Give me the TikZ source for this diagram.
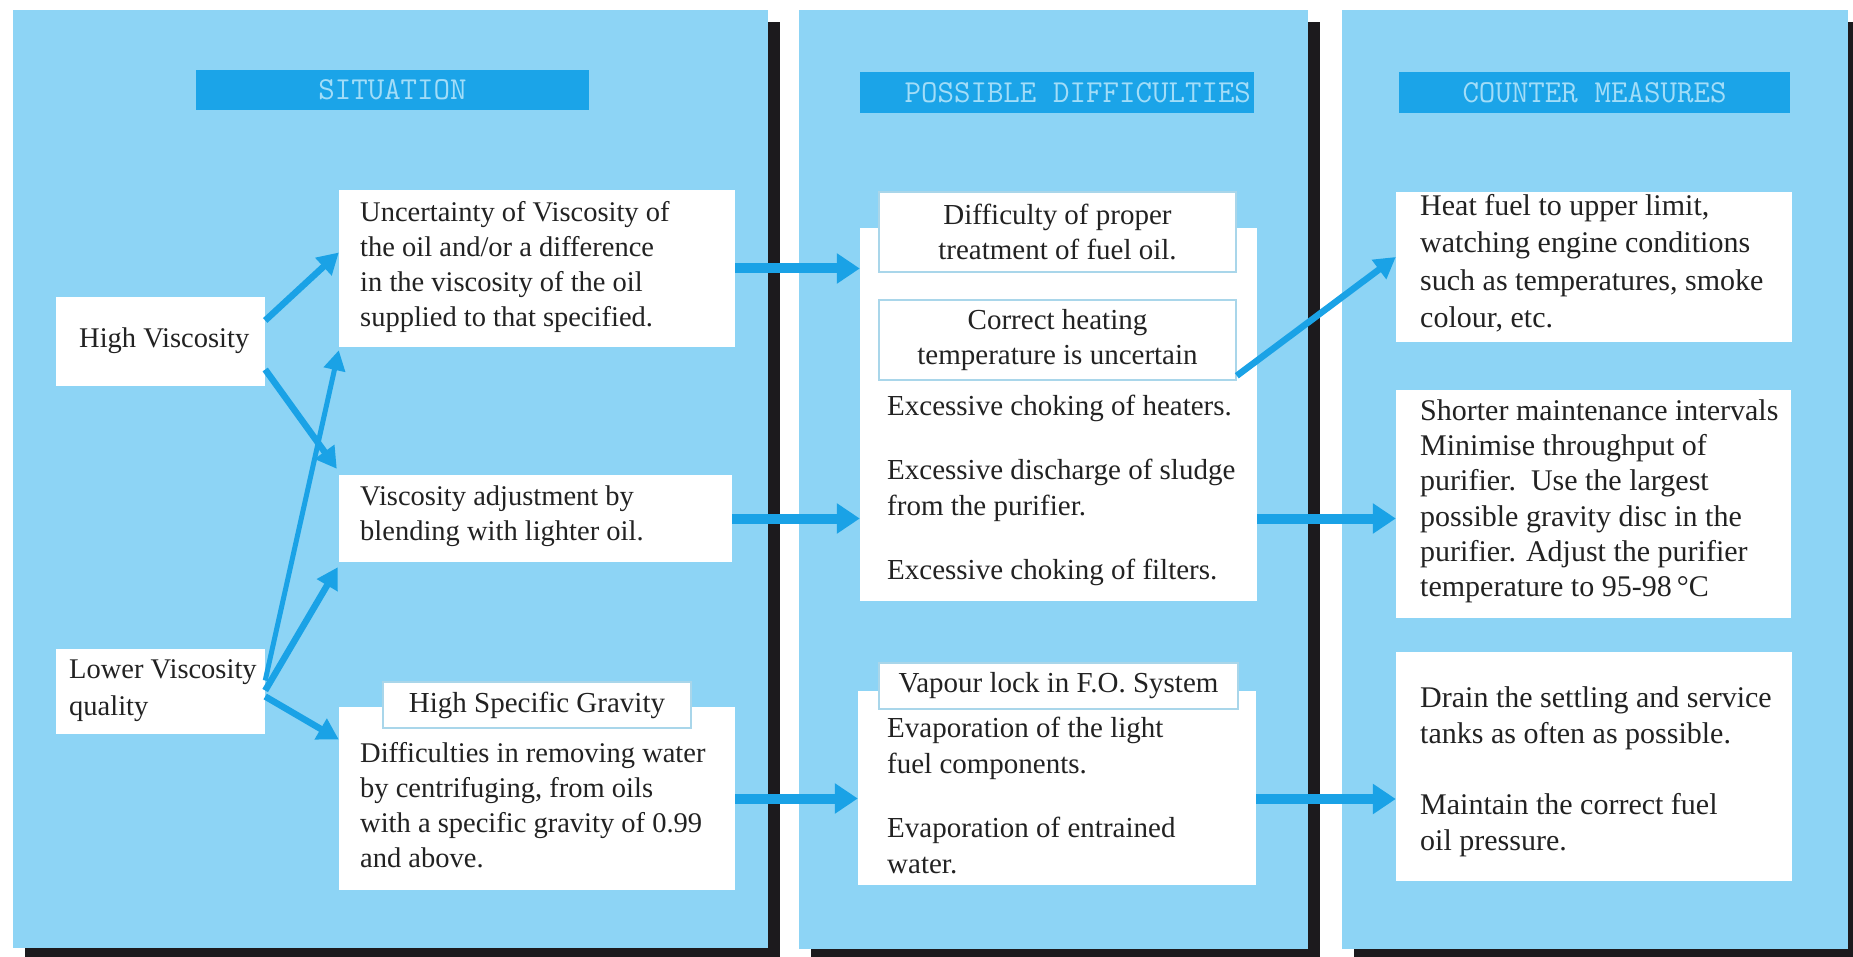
\documentclass[tikz,border=0pt]{standalone}
\usepackage{fontspec}
\setmainfont{Liberation Serif}
\usetikzlibrary{arrows.meta,fit}
\definecolor{panelblue}{HTML}{8DD4F5}
\definecolor{headblue}{HTML}{1BA4E8}
\definecolor{headtext}{HTML}{A2DDF8}
\definecolor{arrowblue}{HTML}{1AA2E6}
\definecolor{shadowblk}{HTML}{1C1A1D}
\definecolor{labelline}{HTML}{A9D6EA}
\definecolor{textgray}{HTML}{222222}
\newcommand{\monosp}{\hspace{0.525em}}
\begin{document}
\begin{tikzpicture}[x=1pt,y=-1pt,
  panel/.style={fill=panelblue},
  shadowbar/.style={fill=shadowblk},
  header/.style={fill=headblue, text=headtext, inner sep=0pt, font=\ttfamily\fontsize{32}{34}\selectfont},
  wbox/.style={fill=white, inner sep=0pt},
  lbox/.style={fill=white, draw=labelline, line width=1.5pt, inner sep=0pt, align=center, text=textgray, font=\fontsize{29}{35}\selectfont},
  pone/.style={font=\fontsize{28.5}{35}\selectfont, text=textgray, align=left, inner sep=0pt, anchor=north west},
  ptwo/.style={font=\fontsize{29}{36}\selectfont, text=textgray, align=left, inner sep=0pt, anchor=north west},
  pthree/.style={font=\fontsize{30}{36.5}\selectfont, text=textgray, align=left, inner sep=0pt, anchor=north west},
  arr/.style={draw=arrowblue, line width=6.5pt, -{Triangle[length=21pt,width=23pt]}},
  thinarr/.style={draw=arrowblue, line width=5pt, -{Triangle[length=20pt,width=21pt]}},
  harr/.style={draw=arrowblue, line width=10pt, -{Triangle[length=23pt,width=29pt]}}
]
\useasboundingbox (0,0) rectangle (1853,957);
\fill[white] (0,0) rectangle (1853,957);
% panels with shadows
\fill[shadowbar] (25,22) rectangle (780,957);
\fill[panel] (13,10) rectangle (768,948);
\fill[shadowbar] (811,22) rectangle (1320,957);
\fill[panel] (799,10) rectangle (1308,949);
\fill[shadowbar] (1354,22) rectangle (1853,957);
\fill[panel] (1342,10) rectangle (1848,949);

% headers
\node[header, minimum width=393pt, minimum height=40pt] (hsit) at (392.5,90) {SITUATION};
\node[header, minimum width=394pt, minimum height=41pt, text width=388pt, align=right] (hpos) at (1057,92.5) {POSSIBLE\monosp DIFFICULTIES};
\node[header, minimum width=391pt, minimum height=41pt] (hcnt) at (1594.5,92.5) {COUNTER\monosp MEASURES};

% panel 1 boxes
\node[wbox, fit={(56,297) (265,386)}] (hv) {};
\node[wbox, fit={(56,649) (265,734)}] (lv) {};
\node[wbox, fit={(339,190) (735,347)}] (unc) {};
\node[wbox, fit={(339,475) (732,562)}] (vadj) {};
\node[wbox, fit={(339,707) (735,890)}] (dif) {};
\node[lbox, minimum width=308pt, minimum height=46pt] (hsg) at (537,705) {High Specific Gravity};

\node[pone] (hv-t) at (79,327) {\rule{0pt}{20pt}High Viscosity};
\node[pone] (lv-t) at (69,658) {\rule{0pt}{20pt}Lower Viscosity\\[2pt]quality};
\node[pone] (unc-t) at (360,201) {\rule{0pt}{20pt}Uncertainty of Viscosity of\\the oil and/or a difference\\in the viscosity of the oil\\supplied to that specified.};
\node[pone] (vadj-t) at (360,485) {\rule{0pt}{20pt}Viscosity adjustment by\\blending with lighter oil.};
\node[pone] (dif-t) at (360,742) {\rule{0pt}{20pt}Difficulties in removing water\\by centrifuging, from oils\\with a specific gravity of 0.99\\and above.};

% panel 2 boxes
\node[wbox, fit={(860,228) (1257,601)}] (bx1) {};
\node[wbox, fit={(858,691) (1256,885)}] (bx2) {};
\node[lbox, minimum width=357pt, minimum height=80pt] (dl) at (1057.5,232) {Difficulty of proper\\treatment of fuel oil.};
\node[lbox, minimum width=357pt, minimum height=80pt] (ch) at (1057.5,340) {Correct heating\\temperature is uncertain};
\node[lbox, minimum width=359pt, minimum height=46pt] (vl) at (1058.5,686) {Vapour lock in F.O. System};

\node[ptwo] (bx1-t) at (887,394) {\rule{0pt}{21pt}Excessive choking of heaters.\\[28pt]Excessive discharge of sludge\\from the purifier.\\[28pt]Excessive choking of filters.};
\node[ptwo] (bx2-t) at (887,716) {\rule{0pt}{21pt}Evaporation of the light\\fuel components.\\[28pt]Evaporation of entrained\\water.};

% panel 3 boxes
\node[wbox, fit={(1396,192) (1792,342)}] (heat) {};
\node[wbox, fit={(1396,390) (1791,618)}] (sht) {};
\node[wbox, fit={(1396,652) (1792,881)}] (drn) {};

\node[pthree, font=\fontsize{30}{37.5}\selectfont] (heat-t) at (1420,194) {\rule{0pt}{21pt}Heat fuel to upper limit,\\watching engine conditions\\such as temperatures, smoke\\colour, etc.};
\node[pthree, font=\fontsize{30}{35.3}\selectfont] (sht-t) at (1420,399) {\rule{0pt}{21pt}Shorter maintenance intervals\\Minimise throughput of\\purifier.\ \ Use the largest\\possible gravity disc in the\\purifier. Adjust the purifier\\temperature to 95-98\,\textdegree C};
\node[pthree] (drn-t) at (1420,686) {\rule{0pt}{21pt}Drain the settling and service\\tanks as often as possible.\\[34pt]Maintain the correct fuel\\oil pressure.};

% connectors in panel 1
\draw[arr] ([yshift=21pt]hv.east) -- ([yshift=16pt]unc.west);
\draw[arr] ([yshift=-28pt]hv.east) -- ([shift={(-2pt,6pt)}]vadj.north west);
\draw[thinarr] ([yshift=11pt]lv.east) -- ([shift={(0pt,-3pt)}]unc.south west);
\draw[arr] ([yshift=1pt]lv.east) -- ([shift={(-1pt,-5pt)}]vadj.south west);
\draw[arr] ([yshift=-5pt]lv.east) -- ([yshift=59pt]dif.west);

% connectors between panels
\draw[harr] (unc.east) -- (unc.east -| bx1.west);
\draw[harr] (vadj.east) -- (vadj.east -| bx1.west);
\draw[harr] (dif.east) -- (dif.east -| bx2.west);
\draw[arr] ([yshift=5pt]ch.south east) -- ([yshift=10pt]heat.west);
\draw[harr] (bx1.east |- vadj.east) -- (sht.west |- vadj.east);
\draw[harr] ([yshift=-11pt]bx2.east) -- ([yshift=-11pt]bx2.east -| drn.west);
\end{tikzpicture}
\end{document}
